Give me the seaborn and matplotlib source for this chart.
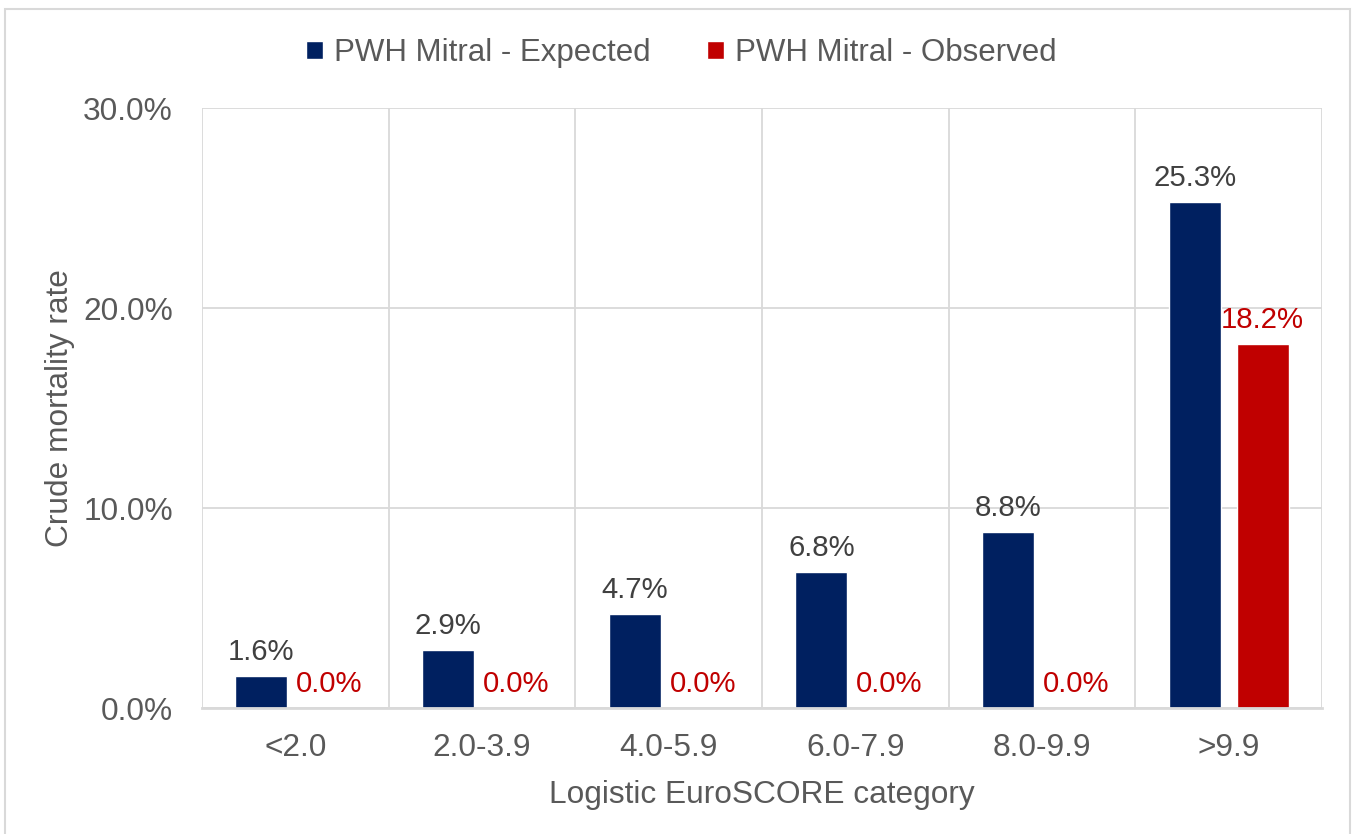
import matplotlib
matplotlib.use("Agg")
import matplotlib.pyplot as plt
from matplotlib.patches import Rectangle
from matplotlib.ticker import FixedLocator, FuncFormatter
import seaborn as sns
import pandas as pd

categories = ["<2.0", "2.0-3.9", "4.0-5.9", "6.0-7.9", "8.0-9.9", ">9.9"]
expected = [1.6, 2.9, 4.7, 6.8, 8.8, 25.3]
observed = [0.0, 0.0, 0.0, 0.0, 0.0, 18.2]
series_names = ["PWH Mitral - Expected", "PWH Mitral - Observed"]
series_colors = ["#002060", "#C00000"]
label_colors = ["#404040", "#C00000"]
y_ticks = [0, 10, 20, 30]

df = pd.DataFrame({
    "category": categories * 2,
    "rate": expected + observed,
    "series": [series_names[0]] * len(categories) + [series_names[1]] * len(categories),
})

sns.set_theme(style="white")
plt.rcParams["font.family"] = ["Liberation Sans", "DejaVu Sans"]

FS = 22.8
fig = plt.figure(figsize=(13.54, 8.34), dpi=100)
ax = fig.add_axes([202 / 1354, 1 - 708 / 834, 1120 / 1354, 600 / 834])

sns.barplot(data=df, x="category", y="rate", hue="series", order=categories,
            hue_order=series_names, palette=series_colors, width=0.728, gap=0.235,
            saturation=1, ax=ax, legend=True, zorder=3)

ax.set_ylim(0, 30)
ax.set_xlim(-0.5, len(categories) - 0.5)
ax.yaxis.set_major_locator(FixedLocator(y_ticks))
ax.yaxis.set_major_formatter(FuncFormatter(lambda v, p: f"{v:.1f}%"))
ax.xaxis.set_minor_locator(FixedLocator([i - 0.5 for i in range(len(categories) + 1)]))

grid_c = "#D9D9D9"
ax.grid(axis="y", which="major", color=grid_c, linewidth=1.3, zorder=0)
ax.grid(axis="x", which="minor", color=grid_c, linewidth=1.3, zorder=0)
ax.grid(axis="x", which="major", visible=False)
for side in ["top", "right", "left"]:
    ax.spines[side].set_visible(False)
ax.spines["bottom"].set_color(grid_c)
ax.spines["bottom"].set_linewidth(2)
ax.spines["bottom"].set_zorder(4)

ax.tick_params(axis="both", which="both", length=0, labelsize=FS, labelcolor="#595959")
ax.tick_params(axis="x", pad=18)
ax.tick_params(axis="y", pad=21)
ax.set_xlabel("Logistic EuroSCORE category", fontsize=FS, color="#595959", labelpad=12)
ax.set_ylabel("Crude mortality rate", fontsize=FS, color="#595959", labelpad=6)

for container, col in zip(ax.containers, label_colors):
    ax.bar_label(container, labels=[f"{v:.1f}%" for v in container.datavalues],
                 padding=7, fontsize=21.2, color=col)

handles, labels = ax.get_legend_handles_labels()
ax.legend(handles, labels, loc="center", bbox_to_anchor=(0.428, 1.0917), ncol=2,
          frameon=False, fontsize=22.5, labelcolor="#595959", handlelength=0.55,
          handleheight=0.55, handletextpad=0.35, columnspacing=1.8, borderpad=0)

fig.patches.append(Rectangle((5 / 1354, -0.05), 1345 / 1354, 1.05 - 9 / 834,
                             transform=fig.transFigure, fill=False,
                             edgecolor="#D9D9D9", linewidth=1.5))

fig.savefig("out.png", dpi=100)
